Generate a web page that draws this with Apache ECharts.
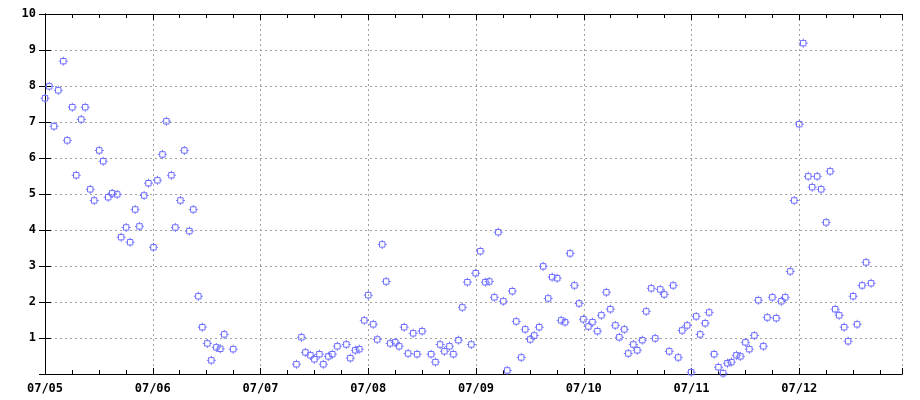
<!DOCTYPE html>
<html>
<head>
<meta charset="utf-8">
<script src="https://cdn.jsdelivr.net/npm/echarts@6/dist/echarts.min.js"></script>
<style>
html,body{margin:0;padding:0;background:#fff;}
#chart{width:920px;height:400px;}
</style>
</head>
<body>
<div id="chart"></div>
<script>
// x: days from the first tick (07/05), ticks every 30 days
const tickLabels = ['07/05','07/06','07/07','07/08','07/09','07/10','07/11','07/12'];
const xDays = [
  0.0,1.2,2.5,3.7,5.1,6.2,7.6,8.7,10.1,11.2,12.6,13.7,15.1,16.2,17.6,18.7,20.1,21.2,22.6,23.7,
  25.1,26.3,27.6,28.8,30.2,31.3,32.7,33.8,35.2,36.3,37.7,38.8,40.2,41.3,42.7,43.8,45.2,46.3,47.7,48.8,
  49.9,52.4,
  70.0,71.4,72.5,73.9,75.0,76.4,77.5,78.9,80.0,81.4,83.9,85.0,86.4,87.5,88.9,90.0,91.4,92.5,93.9,95.0,
  96.1,97.5,98.6,100.0,101.1,102.5,103.6,105.0,107.5,108.7,110.0,111.2,112.6,113.7,115.1,116.2,117.6,118.7,119.9,121.2,
  122.6,123.7,125.1,126.2,127.6,128.7,130.1,131.2,132.6,133.7,135.1,136.2,137.6,138.7,140.1,141.2,142.6,143.7,144.8,146.2,
  147.4,148.7,149.9,151.3,152.4,153.8,154.9,156.3,157.4,158.8,159.9,161.3,162.4,163.8,164.9,166.3,167.4,168.8,169.9,171.3,
  172.4,173.8,174.9,176.3,177.4,178.8,179.9,181.3,182.4,183.8,184.9,186.3,187.5,188.8,190.0,191.1,192.5,193.6,195.0,196.1,
  197.5,198.6,200.0,201.1,202.5,203.6,205.0,206.1,207.5,208.6,210.0,211.1,212.5,213.6,215.0,216.1,217.5,218.6,220.0,221.1,
  222.5,223.6,225.0,226.1,227.5,228.6,230.0
];
const values = [
  7.66,7.99,6.88,7.88,8.69,6.49,7.41,5.52,7.07,7.41,5.13,4.82,6.21,5.91,4.91,5.02,4.99,3.80,4.07,3.66,
  4.57,4.10,4.96,5.30,3.52,5.38,6.10,7.02,5.52,4.07,4.82,6.21,3.97,4.57,2.16,1.30,0.85,0.38,0.74,0.70,
  1.10,0.69,
  0.27,1.02,0.60,0.52,0.41,0.55,0.27,0.49,0.55,0.77,0.82,0.44,0.66,0.69,1.49,2.19,1.38,0.96,3.60,2.57,
  0.85,0.88,0.77,1.30,0.57,1.13,0.55,1.19,0.55,0.33,0.82,0.63,0.77,0.55,0.94,1.85,2.55,0.82,2.80,3.41,
  2.55,2.57,2.13,3.94,2.02,0.10,2.30,1.46,0.46,1.24,0.96,1.07,1.30,2.99,2.10,2.69,2.66,1.49,1.44,3.35,
  2.46,1.96,1.52,1.32,1.44,1.19,1.63,2.27,1.80,1.35,1.02,1.24,0.57,0.82,0.66,0.94,1.74,2.38,0.99,2.35,
  2.21,0.63,2.46,0.46,1.21,1.35,0.05,1.60,1.10,1.41,1.71,0.55,0.19,0.02,0.30,0.33,0.52,0.49,0.88,0.69,
  1.07,2.05,0.77,1.57,2.13,1.55,2.02,2.13,2.85,4.82,6.94,9.19,5.49,5.19,5.49,5.13,4.21,5.63,1.80,1.63,
  1.30,0.91,2.16,1.38,2.46,3.10,2.52
];
const yTicks = ['','1','2','3','4','5','6','7','8','9','10'];

const data = xDays.map((x, i) => [x, values[i]]);
const X_MAX = 238.6;
const FONT = {fontFamily: 'DejaVu Sans Mono', fontWeight: 'bold', fontSize: 12, color: '#000'};
const black = {color: '#000', width: 1};
const gridLine = {color: '#a0a0a0', width: 1, type: [2, 3]};

function xAx(pos, major, withLabels) {
  return {
    type: 'value', position: pos, min: 0, max: X_MAX, interval: major ? 30 : 7.5,
    axisLine: {show: true, onZero: false, lineStyle: black},
    axisTick: {show: true, inside: true, length: major ? 6 : 4, lineStyle: black},
    splitLine: {show: major && withLabels, lineStyle: gridLine},
    axisLabel: withLabels ? Object.assign({
      show: true, margin: 9,
      formatter: v => { const k = Math.round(v / 30); return Math.abs(v - k * 30) < 1e-6 ? (tickLabels[k] || '') : ''; }
    }, FONT) : {show: false}
  };
}

const chart = echarts.init(document.getElementById('chart'), null, {renderer: 'canvas'});
chart.setOption({
  animation: false,
  backgroundColor: '#fff',
  grid: {left: 45, top: 14, right: 18, bottom: 26, containLabel: false},
  xAxis: [
    xAx('bottom', true, true),
    xAx('bottom', false, false),
    xAx('top', true, false),
    xAx('top', false, false)
  ],
  yAxis: [
    {
      type: 'value', position: 'left', min: 0, max: 10, interval: 1,
      axisLine: {show: true, lineStyle: black},
      axisTick: {show: true, inside: true, length: 6, lineStyle: black},
      splitLine: {show: true, lineStyle: gridLine},
      axisLabel: Object.assign({show: true, margin: 9, formatter: v => yTicks[Math.round(v)] || ''}, FONT)
    },
    {
      type: 'value', position: 'right', min: 0, max: 10, interval: 1,
      axisLine: {show: true, lineStyle: black},
      axisTick: {show: true, inside: true, length: 6, lineStyle: black},
      splitLine: {show: false},
      axisLabel: {show: false}
    }
  ],
  series: [{
    type: 'scatter',
    xAxisIndex: 0, yAxisIndex: 0,
    data: data,
    symbol: 'path://M2,2L8,2L8,8L2,8Z M5,0L5,2 M5,8L5,10 M0,5L2,5 M8,5L10,5',
    symbolSize: 9,
    itemStyle: {color: 'rgba(0,0,0,0)', borderColor: '#7070ff', borderWidth: 1, opacity: 1},
    emphasis: {disabled: true},
    clip: false
  }]
});
</script>
</body>
</html>
